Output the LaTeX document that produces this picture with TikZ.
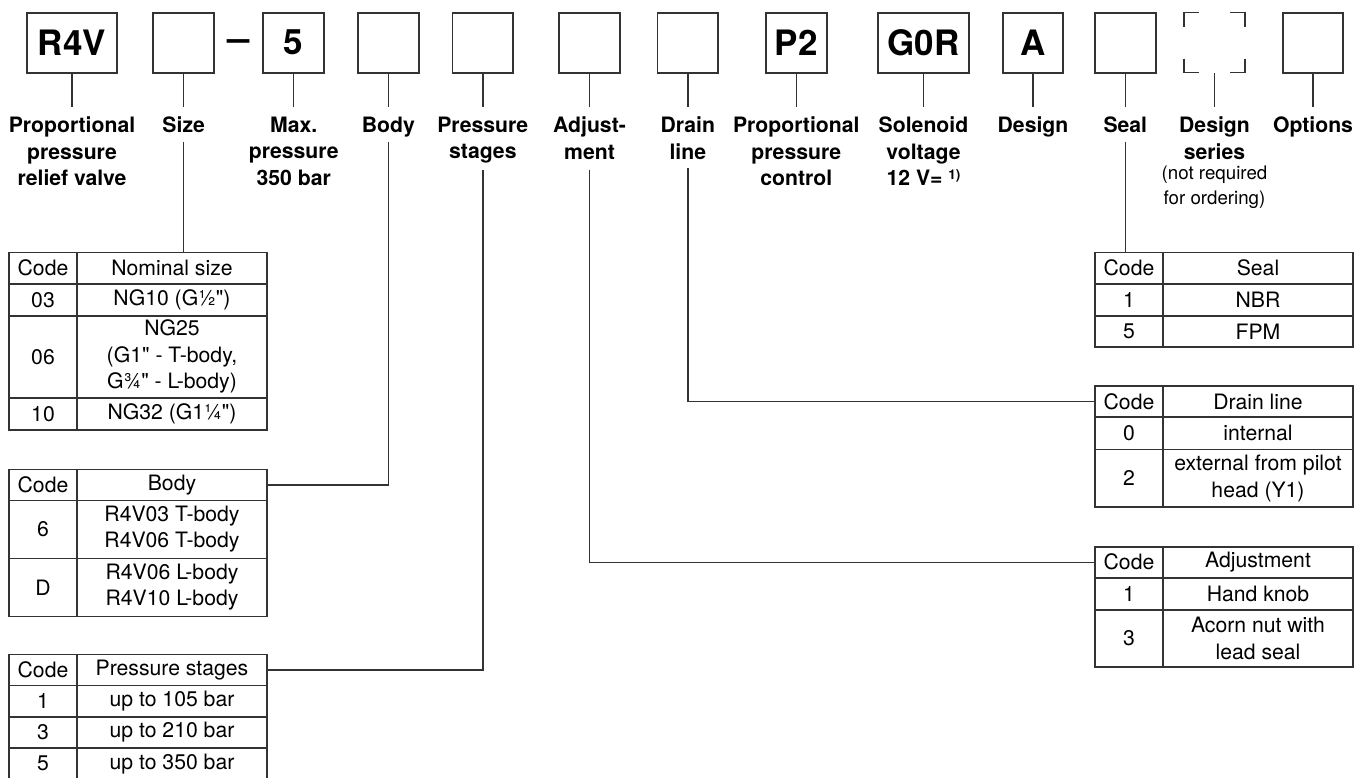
\documentclass[tikz,border=0pt]{standalone}
\usepackage{fontspec}
\setmainfont{TeX Gyre Heros}
\definecolor{ln}{HTML}{333333}
\tikzset{
  cbox/.style={draw=ln, line width=1.8pt, minimum width=60.7pt, minimum height=60pt, inner sep=0pt, outer sep=0pt, font=\fontsize{35}{40}\selectfont\bfseries},
  lbl/.style={anchor=north, inner sep=0pt, outer sep=0pt, align=center, font=\fontsize{21.2}{26.5}\selectfont\bfseries},
  note/.style={anchor=north, inner sep=0pt, outer sep=0pt, align=center, font=\fontsize{18.7}{25}\selectfont},
  tick/.style={draw=ln, line width=1.4pt},
  conn/.style={draw=ln, line width=1.4pt},
  cell/.style={draw=ln, line width=1.6pt, inner sep=0pt, outer sep=0pt, anchor=north west, align=center, font=\fontsize{21.2}{26.5}\selectfont},
  cc/.style={cell, minimum width=68pt},
  cd/.style={cell, minimum width=190pt},
}
\newcommand\tabrow[6]{%
  \node[cc, minimum height=#4pt] (#1c) at (#2,#3) {#5};
  \node[cd, minimum height=#4pt] (#1d) at (#1c.north east) {#6};}
\newcommand\qq{\textquotedbl}
\begin{document}
\begin{tikzpicture}[x=1pt,y=-1pt]
\useasboundingbox (0,0) rectangle (1355,778);
% top code boxes
\node[cbox, minimum width=90.6pt] (bR4V) at (72,42.7) {R4V};
\node[cbox] (bsize) at (183.7,42.7) {};
\node[inner sep=0pt, font=\fontsize{35}{40}\selectfont\bfseries, xscale=1.15] (dash) at (239,45) {–};
\node[cbox] (bfive) at (293.7,42.7) {5};
\node[cbox] (bbody) at (388.3,42.7) {};
\node[cbox] (bpress) at (482.8,42.7) {};
\node[cbox] (badj) at (589.5,42.7) {};
\node[cbox] (bdrain) at (687.8,42.7) {};
\node[cbox] (bP2) at (796.3,42.7) {P2};
\node[cbox, minimum width=91pt] (bG0R) at (923.5,42.7) {G0R};
\node[cbox] (bA) at (1033,42.7) {A};
\node[cbox] (bseal) at (1125.3,42.7) {};
\node[cbox, draw=none] (bds) at (1214.5,42.7) {};
\node[cbox] (bopt) at (1313,42.7) {};
% dashed corner marks of design series
\draw[draw=ln, line width=1.6pt] (bds.north west) ++(0,14) -- ++(0,-14) -- ++(15,0);
\draw[draw=ln, line width=1.6pt] (bds.north east) ++(0,14) -- ++(0,-14) -- ++(-15,0);
\draw[draw=ln, line width=1.6pt] (bds.south west) ++(0,-14) -- ++(0,14) -- ++(15,0);
\draw[draw=ln, line width=1.6pt] (bds.south east) ++(0,-14) -- ++(0,14) -- ++(-15,0);
% ticks
\foreach \b in {bR4V,bsize,bfive,bbody,bpress,badj,bdrain,bP2,bG0R,bA,bseal,bds,bopt}
  \draw[tick] (\b.south) -- ++(0,34);
% labels
\node[lbl] (lR4V) at (72,117) {Proportional\\pressure\\relief valve};
\node[lbl] (lsize) at (183.7,117) {Size};
\node[lbl] (lfive) at (293.7,117) {Max.\\pressure\\350 bar};
\node[lbl] (lbody) at (388.3,117) {Body};
\node[lbl] (lpress) at (482.8,117) {Pressure\\stages};
\node[lbl] (ladj) at (589.5,117) {Adjust-\\ment};
\node[lbl] (ldrain) at (687.8,117) {Drain\\line};
\node[lbl] (lP2) at (796.3,117) {Proportional\\pressure\\control};
\node[lbl] (lG0R) at (923.5,117) {Solenoid\\voltage\\12 V= \raisebox{6pt}{\fontsize{13.5}{13.5}\selectfont 1)}};
\node[lbl] (lA) at (1033,117) {Design};
\node[lbl] (lseal) at (1125.3,117) {Seal};
\node[lbl] (lds) at (1214.5,117) {Design\\series};
\node[note] (lnote) at (1214.5,166) {(not required\\for ordering)};
\node[lbl] (lopt) at (1313,117) {Options};
% size table
\tabrow{tsize0}{9}{252.7}{31}{Code}{Nominal size}
\tabrow{tsize1}{9}{283.7}{32}{03}{NG10 (G½\qq)}
\tabrow{tsize2}{9}{315.7}{82}{06}{NG25\\(G1\qq{} - T-body,\\G¾\qq{} - L-body)}
\tabrow{tsize3}{9}{397.7}{32}{10}{NG32 (G1¼\qq)}
% body table
\tabrow{tbody0}{9}{469.3}{31}{Code}{Body}
\tabrow{tbody1}{9}{500.3}{58}{6}{R4V03 T-body\\R4V06 T-body}
\tabrow{tbody2}{9}{558.3}{58}{D}{R4V06 L-body\\R4V10 L-body}
% pressure stages table
\tabrow{tpress0}{9}{654.3}{31.3}{Code}{Pressure stages}
\tabrow{tpress1}{9}{685.6}{31.3}{1}{up to 105 bar}
\tabrow{tpress2}{9}{716.9}{31.2}{3}{up to 210 bar}
\tabrow{tpress3}{9}{748.1}{31}{5}{up to 350 bar}
% seal table
\tabrow{tseal0}{1095}{252.7}{31}{Code}{Seal}
\tabrow{tseal1}{1095}{283.7}{32}{1}{NBR}
\tabrow{tseal2}{1095}{315.7}{31.5}{5}{FPM}
% drain table
\tabrow{tdrain0}{1095}{386}{31}{Code}{Drain line}
\tabrow{tdrain1}{1095}{417}{32.5}{0}{internal}
\tabrow{tdrain2}{1095}{449.5}{57.5}{2}{external from pilot\\head (Y1)}
% adjustment table
\tabrow{tadj0}{1095}{546.7}{31}{Code}{Adjustment}
\tabrow{tadj1}{1095}{577.7}{32}{1}{Hand knob}
\tabrow{tadj2}{1095}{609.7}{57.4}{3}{Acorn nut with\\lead seal}
% connectors
\draw[conn] (bsize.south) ++(0,69) -- (bsize.south |- tsize0d.north);
\draw[conn] (bbody.south) ++(0,69) |- (tbody0d.east);
\draw[conn] (bpress.south) ++(0,97) |- (tpress0d.east);
\draw[conn] (badj.south) ++(0,97) |- (tadj0c.west);
\draw[conn] (bdrain.south) ++(0,95) |- (tdrain0c.west);
\draw[conn] (bseal.south) ++(0,69) -- (bseal.south |- tseal0c.north);
\end{tikzpicture}
\end{document}
